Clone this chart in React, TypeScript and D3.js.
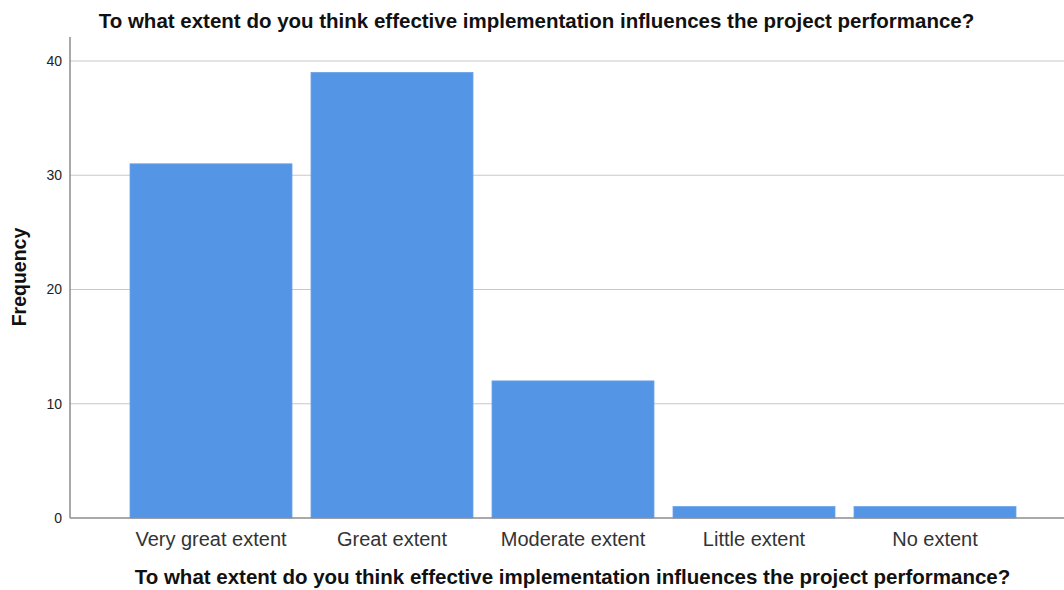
import * as d3 from "d3";

const categories = ["Very great extent", "Great extent", "Moderate extent", "Little extent", "No extent"];
const frequencies = [31, 39, 12, 1, 1];
const yTicks = [0, 10, 20, 30, 40];
const question = "To what extent do you think effective implementation influences the project performance?";

const width = 1064;
const height = 590;
const axisX = 70;
const baseY = 518;
const topY = 37;

export default function App() {
  const y = d3.scaleLinear().domain([0, 42.1]).range([baseY, topY]);
  const x = d3
    .scaleBand<string>()
    .domain(categories)
    .range([111, 1035])
    .paddingInner(0.105)
    .paddingOuter(0.105);

  return (
    <svg
      width={width}
      height={height}
      style={{ position: "absolute", left: 0, top: 0, background: "#fff" }}
      fontFamily="Arial, 'Liberation Sans', sans-serif"
    >
      {/* gridlines */}
      {yTicks.slice(1).map((t) => (
        <line key={t} x1={axisX} x2={width} y1={y(t)} y2={y(t)} stroke="#c8c8c8" strokeWidth={1.2} />
      ))}

      {/* bars */}
      {categories.map((c, i) => (
        <rect
          key={c}
          x={x(c)}
          y={y(frequencies[i])}
          width={x.bandwidth()}
          height={baseY - y(frequencies[i])}
          fill="#5595e5"
          stroke="#6aa3ea"
          strokeWidth={0.8}
        />
      ))}

      {/* axes */}
      <line x1={axisX} x2={axisX} y1={topY} y2={baseY} stroke="#8c8c8c" strokeWidth={1.5} />
      <line x1={axisX} x2={width} y1={baseY} y2={baseY} stroke="#8c8c8c" strokeWidth={1.5} />

      {yTicks.map((t) => (
        <text key={t} x={62} y={y(t)} dy="0.35em" textAnchor="end" fontSize={14} fill="#222">
          {t}
        </text>
      ))}

      {categories.map((c) => (
        <text key={c} x={(x(c) ?? 0) + x.bandwidth() / 2} y={546} textAnchor="middle" fontSize={20} fill="#333">
          {c}
        </text>
      ))}

      <text x={536.5} y={28} textAnchor="middle" fontSize={20.5} fontWeight="bold" fill="#111">
        {question}
      </text>
      <text x={572.5} y={584} textAnchor="middle" fontSize={20.5} fontWeight="bold" fill="#111">
        {question}
      </text>
      <text
        transform={`translate(26,${277}) rotate(-90)`}
        textAnchor="middle"
        fontSize={19.5}
        fontWeight="bold"
        fill="#111"
      >
        Frequency
      </text>
    </svg>
  );
}
